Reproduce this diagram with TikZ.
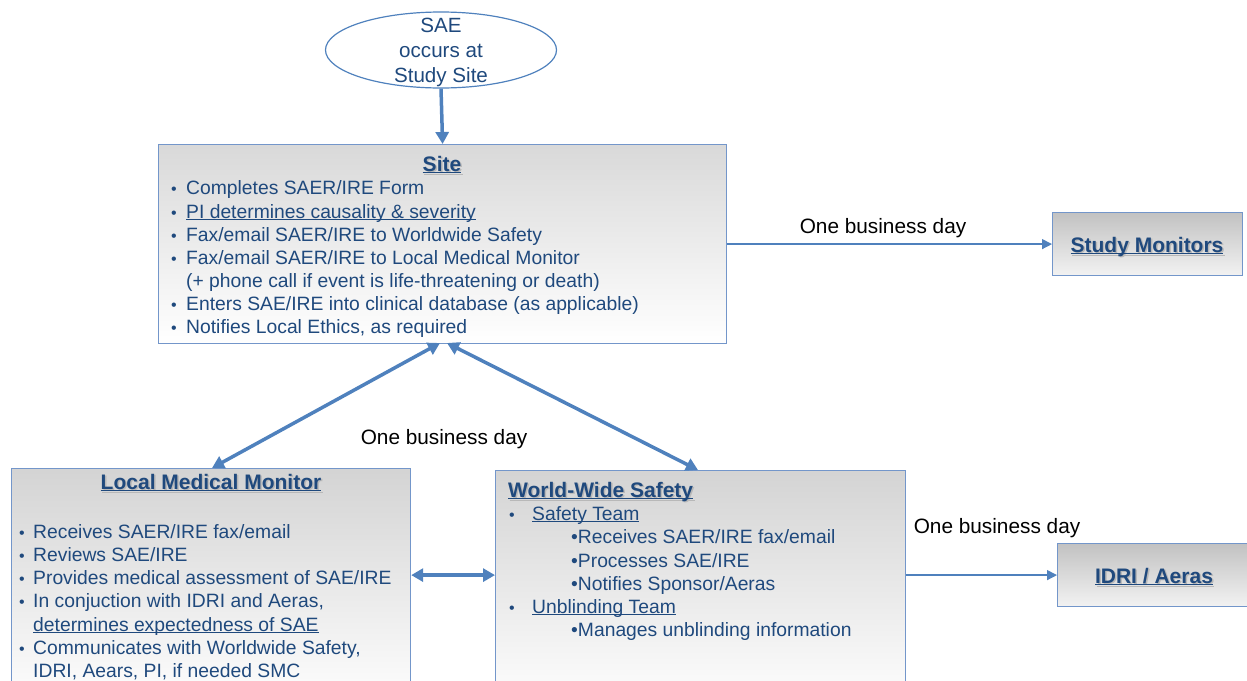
\documentclass[tikz,border=0pt]{standalone}
\usepackage{fontspec}
\setmainfont{Liberation Sans}
\usetikzlibrary{arrows.meta,shapes.geometric,calc}
\definecolor{txt}{RGB}{31,73,125}
\definecolor{arr}{RGB}{79,129,189}
\definecolor{brd}{RGB}{115,150,202}
\newcommand{\ulx}[1]{\underline{\smash{#1}}}
\begin{document}
\begin{tikzpicture}[x=1pt,y=-1pt,
  every node/.style={text=txt, inner sep=0pt, font=\fontsize{19.3}{23}\selectfont},
  box/.style={draw=brd, line width=1.2pt, rectangle, anchor=north west, top color=#1, bottom color=white},
  box/.default={black!15},
  sbox/.style={draw=brd, line width=1.2pt, rectangle, anchor=north west, top color=black!24, bottom color=black!5},
  tl/.style={anchor=base west},
  bl/.style={anchor=base, font=\fontsize{16}{23}\selectfont},
  title/.style={anchor=base, font=\fontsize{21}{25}\selectfont\bfseries},
  titlew/.style={anchor=base west, font=\fontsize{21}{25}\selectfont\bfseries},
  shadow/.style={text=black!28},
  lbl/.style={anchor=base, text=black, font=\fontsize{20.8}{25}\selectfont},
  thick arrow/.style={draw=arr, line width=3.5pt, -{Triangle[width=13pt,length=12pt]}},
  dbl arrow/.style={draw=arr, line width=3.5pt, {Triangle[width=13pt,length=12pt]}-{Triangle[width=13pt,length=12pt]}},
  thin arrow/.style={draw=arr, line width=1.3pt, -{Triangle[width=10pt,length=10pt]}}
]
\useasboundingbox (0,0) rectangle (1247,680);
\clip (0,0) rectangle (1247,680);

% Ellipse
\node[draw=arr, ellipse, line width=1.2pt, minimum width=231pt, minimum height=76pt] (sae) at (441,50) {};
\node[anchor=base, font=\fontsize{20.6}{25}\selectfont] (sae1) at (441,32) {SAE};
\node[anchor=base, font=\fontsize{20.6}{25}\selectfont] (sae2) at (441,57) {occurs at};
\node[anchor=base, font=\fontsize{20.6}{25}\selectfont] (sae3) at (441,82) {Study Site};

% Site box
\node[box, minimum width=568pt, minimum height=199pt] (site) at (158,144) {};
\node[title, shadow] (siteTs) at (443.5,172.5) {\ulx{Site}};
\node[title] (siteT) at (442,171) {\ulx{Site}};
\node[bl] (siteB1) at (174,194) {•};
\node[tl] (siteL1) at (186,194) {Completes SAER/IRE Form};
\node[bl] (siteB2) at (174,218) {•};
\node[tl] (siteL2) at (186,218) {\ulx{PI determines causality \& severity}};
\node[bl] (siteB3) at (174,241) {•};
\node[tl] (siteL3) at (186,241) {Fax/email SAER/IRE to Worldwide Safety};
\node[bl] (siteB4) at (174,264) {•};
\node[tl] (siteL4) at (186,264) {Fax/email SAER/IRE to Local Medical Monitor};
\node[tl] (siteL5) at (186,287) {(+ phone call if event is life-threatening or death)};
\node[bl] (siteB6) at (174,310) {•};
\node[tl] (siteL6) at (186,310) {Enters SAE/IRE into clinical database (as applicable)};
\node[bl] (siteB7) at (174,333) {•};
\node[tl] (siteL7) at (186,333) {Notifies Local Ethics, as required};

% Study monitors
\node[sbox, minimum width=190pt, minimum height=63pt] (sm) at (1052,212) {};
\node[title, shadow] (smTs) at (1148.5,253.5) {\ulx{Study Monitors}};
\node[title] (smT) at (1147,252) {\ulx{Study Monitors}};

% IDRI / Aeras
\node[sbox, minimum width=190pt, minimum height=63pt] (idri) at (1057,543) {};
\node[title, shadow] (idriTs) at (1155.5,584.5) {\ulx{IDRI / Aeras}};
\node[title] (idriT) at (1154,583) {\ulx{IDRI / Aeras}};

% Local Medical Monitor
\node[box=black!17, minimum width=399pt, minimum height=240pt] (lmm) at (11,468) {};
\node[title, shadow] (lmmTs) at (212.5,490.5) {\ulx{Local Medical Monitor}};
\node[title] (lmmT) at (211,489) {\ulx{Local Medical Monitor}};
\node[bl] (lmmB1) at (22,538) {•};
\node[tl] (lmmL1) at (33,538) {Receives SAER/IRE fax/email};
\node[bl] (lmmB2) at (22,561) {•};
\node[tl] (lmmL2) at (33,561) {Reviews SAE/IRE};
\node[bl] (lmmB3) at (22,584) {•};
\node[tl] (lmmL3) at (33,584) {Provides medical assessment of SAE/IRE};
\node[bl] (lmmB4) at (22,607) {•};
\node[tl] (lmmL4) at (33,607) {In conjuction with IDRI and Aeras,};
\node[tl] (lmmL5) at (33,631) {\ulx{determines expectedness of SAE}};
\node[bl] (lmmB6) at (22,654) {•};
\node[tl] (lmmL6) at (33,654) {Communicates with Worldwide Safety,};
\node[tl] (lmmL7) at (33,677) {IDRI, Aears, PI, if needed SMC};

% World-Wide Safety
\node[box=black!17, minimum width=410pt, minimum height=240pt] (wws) at (495,470) {};
\node[titlew, shadow] (wwsTs) at (509.5,498.5) {\ulx{World-Wide Safety}};
\node[titlew] (wwsT) at (508,497) {\ulx{World-Wide Safety}};
\node[bl] (wwsB1) at (512,520) {•};
\node[tl] (wwsS) at (532,520) {\ulx{Safety Team}};
\node[tl] (wwsS1) at (571,543) {•Receives SAER/IRE fax/email};
\node[tl] (wwsS2) at (571,567) {•Processes SAE/IRE};
\node[tl] (wwsS3) at (571,590) {•Notifies Sponsor/Aeras};
\node[bl] (wwsB2) at (512,613) {•};
\node[tl] (wwsU) at (532,613) {\ulx{Unblinding Team}};
\node[tl] (wwsU1) at (571,636) {•Manages unblinding information};

% Labels
\node[lbl] (lab1) at (883,233) {One business day};
\node[lbl] (lab2) at (444,444) {One business day};
\node[lbl] (lab3) at (997,533) {One business day};

% Connectors
\coordinate (sbl) at (440,343);
\coordinate (sbr) at (447,343);
\coordinate (lmmtop) at (212,468);
\coordinate (wwstop) at (698,470);
\draw[thick arrow] (sae.south) -- (site.north);
\draw[dbl arrow] (sbl) -- (lmmtop);
\draw[dbl arrow] (sbr) -- (wwstop);
\draw[thin arrow] (site.east) -- (sm.west);
\draw[thin arrow] (wws.east |- idri.west) -- (idri.west);
\draw[dbl arrow] (lmm.east |- idri.west) -- (wws.west |- idri.west);
\end{tikzpicture}
\end{document}
